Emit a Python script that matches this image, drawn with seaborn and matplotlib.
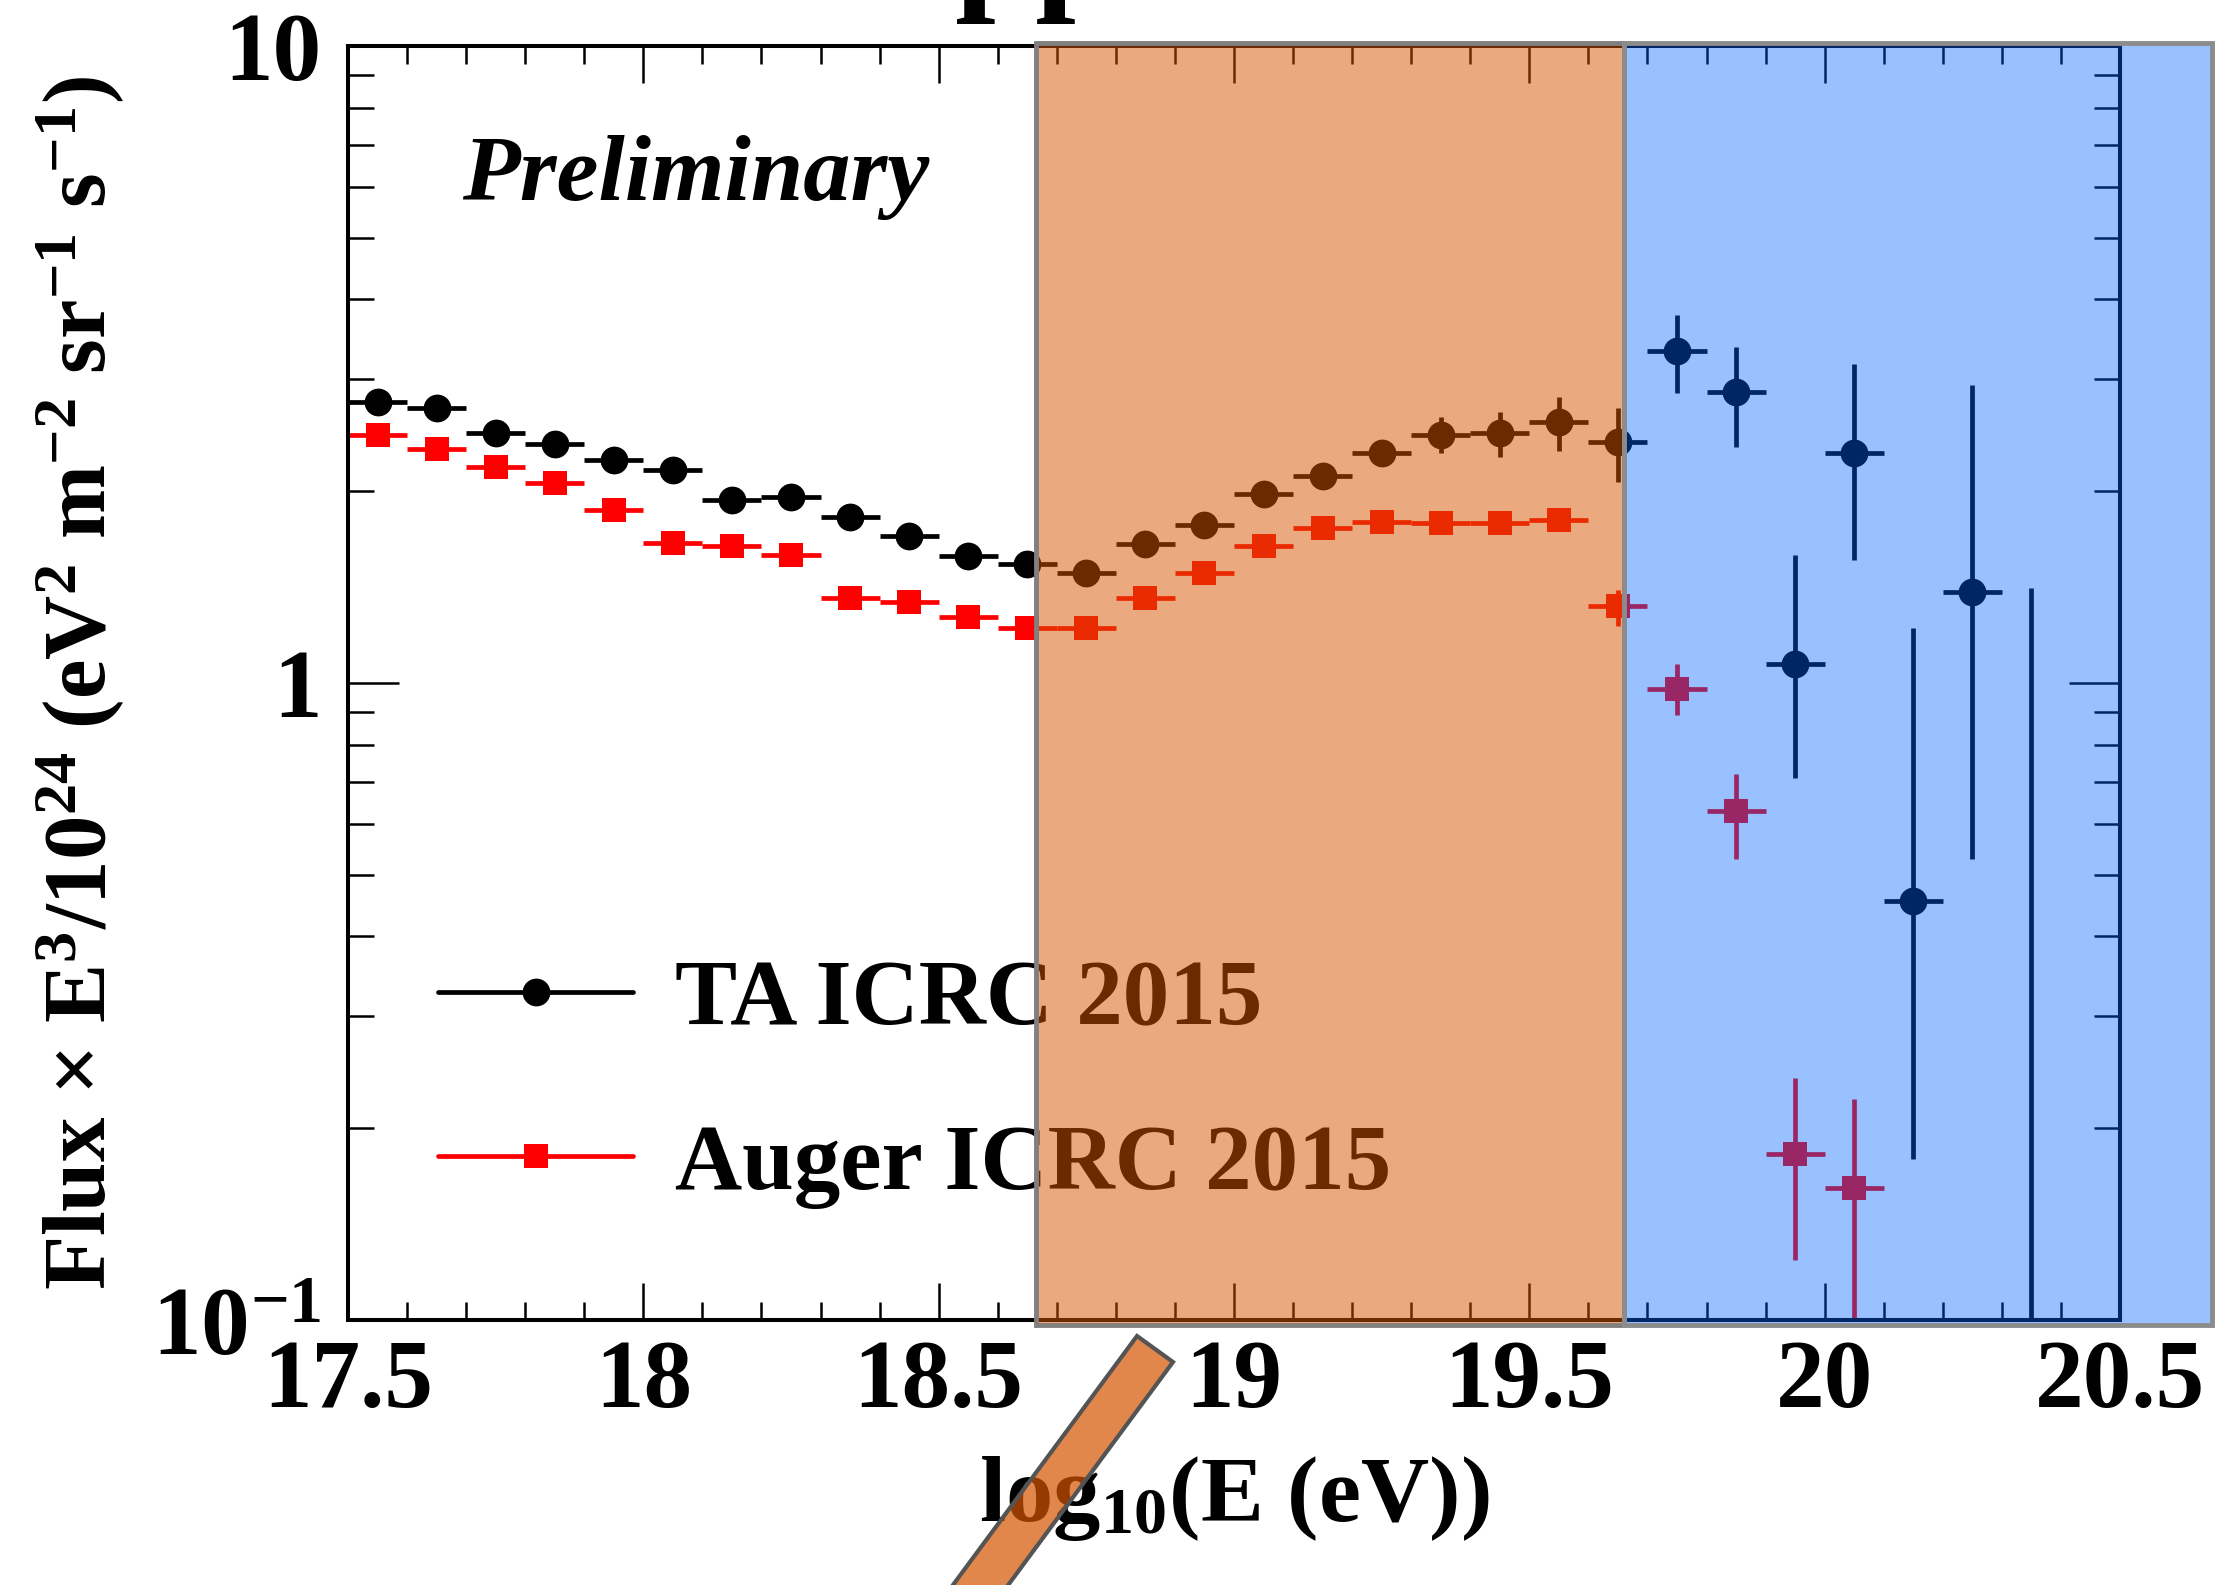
import numpy as np
import pandas as pd
import matplotlib
matplotlib.use("Agg")
import matplotlib.pyplot as plt
import matplotlib.ticker as mticker
import matplotlib.transforms as mtransforms
from matplotlib.lines import Line2D
from matplotlib.patches import Rectangle, Polygon
import seaborn as sns

# ---------------- data ----------------
ta_logE = [17.55, 17.65, 17.75, 17.85, 17.95, 18.05, 18.15, 18.25, 18.35, 18.45,
           18.55, 18.65, 18.75, 18.85, 18.95, 19.05, 19.15, 19.25, 19.35, 19.45,
           19.55, 19.65, 19.75, 19.85, 19.95, 20.05, 20.15, 20.25, 20.35]
ta_flux = [2.76, 2.70, 2.47, 2.37, 2.24, 2.16, 1.94, 1.96, 1.82, 1.70,
           1.58, 1.54, 1.49, 1.65, 1.77, 1.98, 2.11, 2.30, 2.45, 2.47,
           2.57, 2.39, 3.32, 2.86, 1.07, 2.30, 0.455, 1.39, 0.0]
ta_low = [2.72, 2.66, 2.43, 2.33, 2.20, 2.12, 1.90, 1.92, 1.78, 1.66,
          1.54, 1.50, 1.45, 1.60, 1.72, 1.92, 2.04, 2.22, 2.30, 2.26,
          2.31, 2.07, 2.85, 2.35, 0.71, 1.56, 0.179, 0.53, 0.0]
ta_high = [2.80, 2.74, 2.51, 2.41, 2.28, 2.20, 1.98, 2.00, 1.86, 1.74,
           1.62, 1.58, 1.53, 1.70, 1.82, 2.04, 2.18, 2.38, 2.62, 2.66,
           2.81, 2.70, 3.78, 3.37, 1.59, 3.17, 1.22, 2.94, 1.41]

auger_logE = [17.55, 17.65, 17.75, 17.85, 17.95, 18.05, 18.15, 18.25, 18.35, 18.45,
              18.55, 18.65, 18.75, 18.85, 18.95, 19.05, 19.15, 19.25, 19.35, 19.45,
              19.55, 19.65, 19.75, 19.85, 19.95, 20.05, 20.25]
auger_flux = [2.45, 2.33, 2.18, 2.06, 1.87, 1.66, 1.64, 1.59, 1.36, 1.34,
              1.27, 1.22, 1.22, 1.36, 1.49, 1.64, 1.75, 1.79, 1.78, 1.78,
              1.80, 1.32, 0.98, 0.63, 0.182, 0.161, 0.0]
auger_low = [2.42, 2.30, 2.15, 2.03, 1.84, 1.63, 1.61, 1.56, 1.33, 1.31,
             1.24, 1.19, 1.19, 1.33, 1.46, 1.61, 1.72, 1.76, 1.75, 1.75,
             1.77, 1.23, 0.89, 0.53, 0.124, 0.05, 0.0]
auger_high = [2.48, 2.36, 2.21, 2.09, 1.90, 1.69, 1.67, 1.62, 1.39, 1.37,
              1.30, 1.25, 1.25, 1.39, 1.52, 1.67, 1.78, 1.82, 1.81, 1.81,
              1.83, 1.40, 1.07, 0.72, 0.240, 0.222, 0.0]

bin_half_width = 0.05
series_labels = ["TA ICRC 2015", "Auger ICRC 2015"]
x_major_ticks = [17.5, 18.0, 18.5, 19.0, 19.5, 20.0, 20.5]
x_tick_labels = ["17.5", "18", "18.5", "19", "19.5", "20", "20.5"]
y_major_ticks = [0.1, 1.0, 10.0]
y_tick_labels = ["10$^{-1}$", "1", "10"]
x_range = (17.5, 20.5)
y_range = (0.1, 10.0)
highlight_low = (18.665, 19.66)
highlight_high = (19.66, 20.655)

# ---------------- style ----------------
sns.set_theme(style="ticks")
plt.rcParams["font.family"] = ["Liberation Serif", "DejaVu Serif"]
plt.rcParams["font.weight"] = "bold"
plt.rcParams["mathtext.fontset"] = "custom"
plt.rcParams["mathtext.rm"] = "Liberation Serif:bold"
plt.rcParams["mathtext.it"] = "Liberation Serif:italic:bold"
plt.rcParams["mathtext.bf"] = "Liberation Serif:bold"
plt.rcParams["axes.unicode_minus"] = False
for key in ["text.color", "axes.labelcolor", "xtick.color", "ytick.color", "axes.edgecolor"]:
    plt.rcParams[key] = "black"

W, H, DPI = 2229, 1585, 100
fig = plt.figure(figsize=(W / DPI, H / DPI), dpi=DPI, facecolor="white")
ax = fig.add_axes([348 / W, 1 - 1320 / H, (2120 - 348) / W, (1320 - 46) / H])
ax.set_facecolor("white")

FS = 70
ELW = 3.4

def draw_series(xs, ys, lo, hi, color, marker, msize):
    xs = np.asarray(xs, float)
    ys = np.asarray(ys, float)
    lo = np.asarray(lo, float)
    hi = np.asarray(hi, float)
    y_plot = np.where(ys > 0, ys, y_range[0])
    lo_plot = np.where(lo > 0, lo, y_range[0] * 0.5)
    yerr = np.vstack([np.clip(y_plot - lo_plot, 0, None), np.clip(hi - y_plot, 0, None)])
    ax.errorbar(xs, y_plot, xerr=bin_half_width, yerr=yerr, fmt="none",
                ecolor=color, elinewidth=ELW, capsize=0, zorder=2)
    df = pd.DataFrame({"logE": xs, "flux": np.where(ys > 0, ys, np.nan)}).dropna()
    sns.scatterplot(data=df, x="logE", y="flux", ax=ax, color=color, marker=marker,
                    s=msize ** 2, linewidth=0, zorder=3, legend=False)

draw_series(ta_logE, ta_flux, ta_low, ta_high, "black", "o", 20)
draw_series(auger_logE, auger_flux, auger_low, auger_high, "red", "s", 17)

ax.set_yscale("log")
ax.set_xlim(*x_range)
ax.set_ylim(*y_range)

ax.set_xticks(x_major_ticks)
ax.set_xticklabels(x_tick_labels)
ax.xaxis.set_minor_locator(mticker.MultipleLocator(0.1))
ax.set_yticks(y_major_ticks)
ax.set_yticklabels(y_tick_labels)
ax.yaxis.set_minor_locator(mticker.LogLocator(base=10, subs=np.arange(2, 10)))
ax.yaxis.set_minor_formatter(mticker.NullFormatter())

ax.tick_params(which="both", direction="in", top=True, right=True, colors="black",
               labelsize=FS)
ax.xaxis.set_tick_params(which="major", length=26.5, width=1.8, pad=14)
ax.xaxis.set_tick_params(which="minor", length=13, width=1.8)
ax.yaxis.set_tick_params(which="major", length=37, width=1.8, pad=19)
ax.yaxis.set_tick_params(which="minor", length=18.5, width=1.8)
for lab in ax.get_xticklabels() + ax.get_yticklabels():
    lab.set_fontweight("bold")
    lab.set_color("black")
for sp in ax.spines.values():
    sp.set_linewidth(2.9)
    sp.set_color("black")
    sp.set_visible(True)

ax.set_xlabel("log$_{10}$(E (eV))", fontsize=68, fontweight="bold", color="black")
ax.set_ylabel("Flux \u00d7 E$^{3}$/10$^{24}$ (eV$^{2}$ m$^{-2}$ sr$^{-1}$ s$^{-1}$)",
              fontsize=64, fontweight="bold", color="black")
ax.xaxis.set_label_coords(0.5, -0.105)
ax.yaxis.set_label_coords(-0.125, 0.5)

ax.text(0.0644, 0.8795, "Preliminary", transform=ax.transAxes, fontsize=68,
        fontstyle="italic", fontweight="bold", ha="left", va="baseline", color="black")

handles = [
    Line2D([], [], color="black", lw=ELW, marker="o", markersize=20, markeredgewidth=0),
    Line2D([], [], color="red", lw=ELW, marker="s", markersize=17, markeredgewidth=0),
]
leg = ax.legend(handles, series_labels, loc="center left", bbox_to_anchor=(0.0508, 0.185),
                frameon=False, handlelength=2.1, handletextpad=0.45,
                labelspacing=0.85, borderpad=0, borderaxespad=0,
                prop={"weight": "bold", "size": 67, "family": "Liberation Serif"})
for t in leg.get_texts():
    t.set_color("black")

# translucent highlight boxes laid over the plot
trans = mtransforms.blended_transform_factory(ax.transData, ax.transAxes)
ax.add_patch(Rectangle((highlight_low[0], -0.004), highlight_low[1] - highlight_low[0], 1.0064,
                       transform=trans, facecolor=(214 / 255, 84 / 255, 0, 0.5),
                       edgecolor=(0.5, 0.5, 0.5), lw=3.5, clip_on=False, zorder=100))
ax.add_patch(Rectangle((highlight_high[0], -0.004), highlight_high[1] - highlight_high[0], 1.0064,
                       transform=trans, facecolor=(0, 100 / 255, 1, 0.4),
                       edgecolor=(0.55, 0.55, 0.55), lw=3.5, clip_on=False, zorder=100))

# tilted orange bar below the axis
bar_px = [(1137, 1336), (1173, 1362), (935, 1684), (899, 1658)]
fig.patches.append(Polygon([(x / W, 1 - y / H) for x, y in bar_px], closed=True,
                           transform=fig.transFigure, figure=fig,
                           facecolor=(214 / 255, 84 / 255, 0, 0.7),
                           edgecolor=(0.33, 0.33, 0.33), lw=3, zorder=5))

# title mostly cut off above the canvas
fig.text(954 / W, 1 + 7 / H, "pp", fontsize=105, fontweight="bold", ha="left",
         va="baseline", color="black")

fig.savefig("out.png", dpi=DPI, facecolor="white")
